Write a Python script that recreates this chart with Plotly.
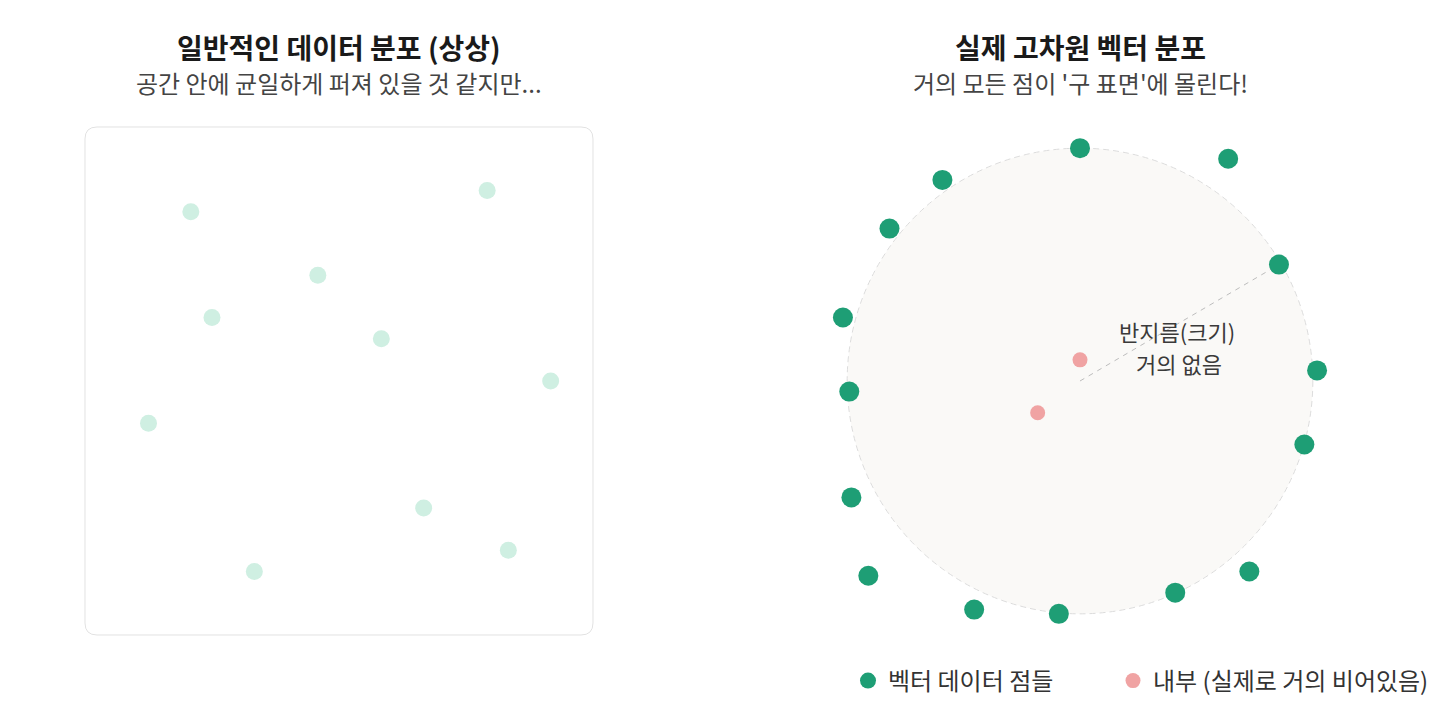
import plotly.graph_objects as go

FONT = "Noto Sans CJK KR"

# left panel: the "imagined" uniform spread (grid units, box is -12..12)
uniform_x = [-7, 7, -1, -6, 2, 10, -9, 4, 8, -4]
uniform_y = [8, 9, 5, 3, 2, 0, -2, -6, -8, -9]

# right panel: points pushed out to the sphere surface (circle radius 11)
surface_x = [0.0, 7.0, -6.5, -9.0, 9.4, -11.2, 11.2, -10.9, 10.6, -10.8, -10.0, -5.0, -1.0, 4.5, 8.0]
surface_y = [11.0, 10.5, 9.5, 7.2, 5.5, 3.0, 0.5, -0.5, -3.0, -5.5, -9.2, -10.8, -11.0, -10.0, -9.0]

inner_x = [0.0, -2.0]
inner_y = [1.0, -1.5]

SPHERE_R = 11
BOX_HALF = 12
RADIUS_IDX = 4  # point the radius line goes to

titles = ["일반적인 데이터 분포 (상상)", "실제 고차원 벡터 분포"]
subtitles = ["공간 안에 균일하게 퍼져 있을 것 같지만...", "거의 모든 점이 '구 표면'에 몰린다!"]
radius_label = ["반지름(크기)", "거의 없음"]
legend_names = ["벡터 데이터 점들", "내부 (실제로 거의 비어있음)"]

GREEN = "#1e9e75"
LIGHT_GREEN = "#cfefe2"
PINK = "#f0a3a3"

W, H = 1440, 720
OFF = 8               # page margin around the plot div
U = 508 / 24          # px per grid unit
HALF = 12.5           # axis half range
LEFT_CX, RIGHT_CX, CY = 339 - OFF, 1080 - OFF, 381 - OFF


def xdom(cx):
    return [(cx - HALF * U) / W, (cx + HALF * U) / W]


ydom = [(H - CY - HALF * U) / H, (H - CY + HALF * U) / H]

fig = go.Figure()

fig.add_trace(go.Scatter(
    x=uniform_x, y=uniform_y, mode="markers",
    marker=dict(size=17, color=LIGHT_GREEN),
    showlegend=False, hoverinfo="skip", cliponaxis=False,
    xaxis="x", yaxis="y"
))

# radius guide
fig.add_trace(go.Scatter(
    x=[0, surface_x[RADIUS_IDX]], y=[0, surface_y[RADIUS_IDX]], mode="lines",
    line=dict(color="#bdbdbd", width=1, dash="5px,5px"),
    showlegend=False, hoverinfo="skip",
    xaxis="x2", yaxis="y2"
))

fig.add_trace(go.Scatter(
    x=surface_x, y=surface_y, mode="markers", name=legend_names[0],
    marker=dict(size=20, color=GREEN),
    cliponaxis=False, xaxis="x2", yaxis="y2", legend="legend"
))

fig.add_trace(go.Scatter(
    x=inner_x, y=inner_y, mode="markers", name=legend_names[1],
    marker=dict(size=15, color=PINK),
    cliponaxis=False, xaxis="x2", yaxis="y2", legend="legend2"
))

# rounded box around the left panel
r = 12 / U
b = BOX_HALF
box_path = (
    f"M {-b + r},{-b} L {b - r},{-b} Q {b},{-b} {b},{-b + r} "
    f"L {b},{b - r} Q {b},{b} {b - r},{b} "
    f"L {-b + r},{b} Q {-b},{b} {-b},{b - r} "
    f"L {-b},{-b + r} Q {-b},{-b} {-b + r},{-b} Z"
)

shapes = [
    dict(type="path", path=box_path, xref="x", yref="y",
         line=dict(color="#e2e2e2", width=1), fillcolor="white", layer="below"),
    dict(type="circle", xref="x2", yref="y2",
         x0=-SPHERE_R, y0=-SPHERE_R, x1=SPHERE_R, y1=SPHERE_R,
         fillcolor="#faf9f7", line=dict(color="#dcdcdc", width=1, dash="6px,4px"),
         layer="below"),
]

annotations = []
for cx, t, s in zip([LEFT_CX, RIGHT_CX], titles, subtitles):
    annotations.append(dict(
        x=cx / W, y=1 - (47 - OFF) / H, xref="paper", yref="paper", showarrow=False,
        text=f"<b>{t}</b>", font=dict(family=FONT, size=28, color="#1a1a1a"),
        xanchor="center", yanchor="middle"
    ))
    annotations.append(dict(
        x=cx / W, y=1 - (83 - OFF) / H, xref="paper", yref="paper", showarrow=False,
        text=s, font=dict(family=FONT, size=24, color="#444444"),
        xanchor="center", yanchor="middle"
    ))

# radius label, one annotation per line
for line_text, lx, ly in zip(radius_label, [4.58, 4.7], [2.35, 0.87]):
    annotations.append(dict(
        x=lx, y=ly, xref="x2", yref="y2", showarrow=False,
        text=line_text, xanchor="center", yanchor="middle",
        font=dict(family=FONT, size=22, color="#3a3a3a")
    ))

axis_style = dict(visible=False, range=[-HALF, HALF], fixedrange=True)

legend_style = dict(
    orientation="h", xanchor="left", y=1 - (681 - OFF) / H, yanchor="middle",
    font=dict(family=FONT, size=24, color="#333333"),
    itemsizing="trace", bgcolor="rgba(0,0,0,0)"
)

fig.update_layout(
    width=W, height=H,
    margin=dict(l=0, r=0, t=0, b=0),
    paper_bgcolor="white", plot_bgcolor="rgba(0,0,0,0)",
    font=dict(family=FONT, color="#333333"),
    xaxis=dict(domain=xdom(LEFT_CX), **axis_style),
    yaxis=dict(domain=ydom, **axis_style),
    xaxis2=dict(domain=xdom(RIGHT_CX), anchor="y2", **axis_style),
    yaxis2=dict(domain=ydom, anchor="x2", **axis_style),
    shapes=shapes,
    annotations=annotations,
    legend=dict(x=(848 - OFF) / W, **legend_style),
    legend2=dict(x=(1113 - OFF) / W, **legend_style),
    showlegend=True,
)

fig.write_html("out.html")
